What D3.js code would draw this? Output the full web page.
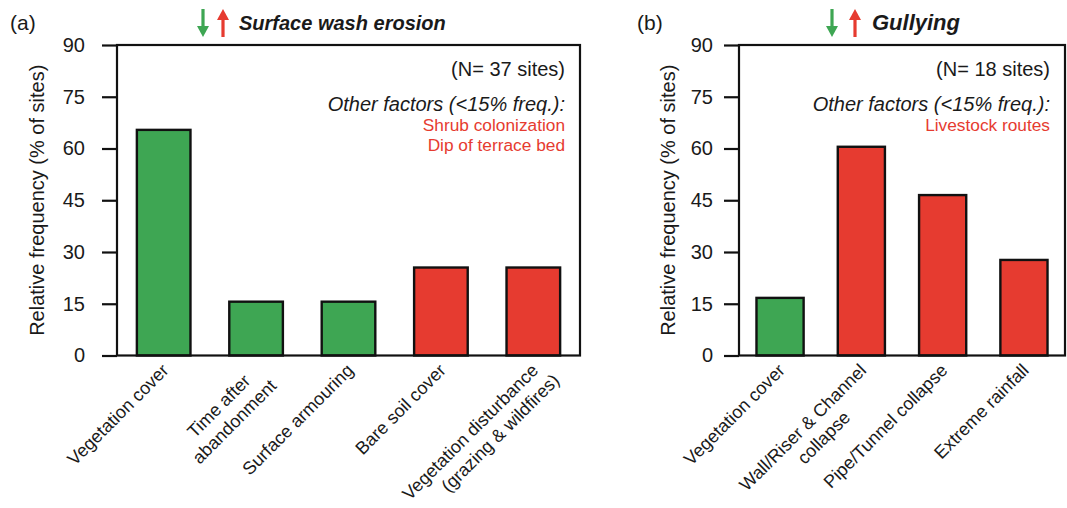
<!DOCTYPE html>
<html>
<head>
<meta charset="utf-8">
<script src="https://cdn.jsdelivr.net/npm/d3@7"></script>
<style>
  body { margin: 0; background: #fff; }
  svg text { font-family: "Liberation Sans", Arial, sans-serif; fill: #1a1a1a; }
</style>
</head>
<body>
<svg id="chart" width="1067" height="508"></svg>
<script>
// panel (a) surface wash erosion
let catsA = ['Vegetation cover', 'Time after\nabandonment', 'Surface armouring', 'Bare soil cover', 'Vegetation disturbance\n(grazing & wildfires)'];
let valsA = [65.4, 15.6, 15.6, 25.5, 25.5];
let effA = ['down', 'down', 'down', 'up', 'up'];
let otherA = ['Shrub colonization', 'Dip of terrace bed'];

// panel (b) gullying
let catsB = ['Vegetation cover', 'Wall/Riser & Channel\ncollapse', 'Pipe/Tunnel collapse', 'Extreme rainfall'];
let valsB = [16.7, 60.5, 46.5, 27.7];
let effB = ['down', 'up', 'up', 'up'];
let otherB = ['Livestock routes'];

let yTicks = [0, 15, 30, 45, 60, 75, 90];

let green = '#3ea653';
let red = '#e63b30';

let svg = d3.select('#chart');

function drawPanel(opt) {
  let g = svg.append('g');
  let x = d3.scaleBand()
    .domain(opt.cats)
    .range([opt.left, opt.right])
    .paddingInner(0.42)
    .paddingOuter(0.215);
  let y = d3.scaleLinear().domain([0, 90]).range([opt.bottom, opt.top]);

  // bars
  g.selectAll('rect.bar')
    .data(opt.vals)
    .enter()
    .append('rect')
    .attr('class', 'bar')
    .attr('x', (d, i) => x(opt.cats[i]))
    .attr('width', x.bandwidth())
    .attr('y', d => y(d))
    .attr('height', d => y(0) - y(d))
    .attr('fill', (d, i) => opt.eff[i] == 'down' ? green : red)
    .attr('stroke', '#111')
    .attr('stroke-width', 2.4);

  // box
  g.append('rect')
    .attr('x', opt.left).attr('y', opt.top)
    .attr('width', opt.right - opt.left).attr('height', opt.bottom - opt.top)
    .attr('fill', 'none').attr('stroke', '#111').attr('stroke-width', 2.2);

  // y axis
  let ax = g.append('g')
    .attr('transform', 'translate(' + opt.left + ',0)')
    .call(d3.axisLeft(y).tickValues(yTicks).tickSize(15).tickPadding(opt.pad).tickSizeOuter(0));
  ax.select('.domain').remove();
  ax.selectAll('line').attr('stroke', '#111').attr('stroke-width', 2.2);
  ax.selectAll('text')
    .style('font-family', '"Liberation Sans", Arial, sans-serif')
    .style('font-size', '20px')
    .attr('fill', '#1a1a1a');

  g.append('text')
    .attr('transform', 'translate(' + opt.ylabX + ',' + ((opt.top + opt.bottom) / 2) + ') rotate(-90)')
    .attr('text-anchor', 'middle')
    .style('font-size', '20px')
    .text('Relative frequency (% of sites)');

  // x labels, rotated; first line anchored under the bar, extra lines centred below
  opt.cats.forEach(function(c) {
    let lines = c.split('\n');
    let cx = x(c) + x.bandwidth() / 2;
    let lg = g.append('g')
      .attr('transform', 'translate(' + (cx + 6) + ',' + (opt.bottom + 16) + ') rotate(-45)');
    let ts = lines.map(function(l, i) {
      return lg.append('text')
        .attr('y', i * 22)
        .attr('text-anchor', 'middle')
        .style('font-size', '18px')
        .text(l);
    });
    let lens = ts.map(t => t.node().getComputedTextLength());
    let w = d3.max(lens);
    ts.forEach(t => t.attr('x', -w / 2));
    // keep the block inside the picture: slide short lines up along the text
    let over = lg.node().getBoundingClientRect().bottom - 505;
    if (over > 0) {
      ts.forEach(function(t, i) {
        if (lens[i] < w) t.attr('x', -w / 2 + over / 0.707);
      });
    }
  });

  // panel letter
  g.append('text').attr('x', opt.letterX).attr('y', 30)
    .style('font-size', '21px').text(opt.letter);

  // title arrows
  arrow(g, opt.arrowX, 'down', green);
  arrow(g, opt.arrowX + opt.arrowGap, 'up', red);
  g.append('text').attr('x', opt.titleX).attr('y', 30)
    .style('font-size', opt.titleSize).style('font-weight', 'bold').style('font-style', 'italic')
    .text(opt.title);

  // annotations
  let rx = opt.right - 15;
  g.append('text').attr('x', rx).attr('y', 76).attr('text-anchor', 'end')
    .style('font-size', '20px').text(opt.nText);
  g.append('text').attr('x', rx).attr('y', 111).attr('text-anchor', 'end')
    .style('font-size', '20px').style('font-style', 'italic')
    .text('Other factors (<15% freq.):');
  g.selectAll('text.other')
    .data(opt.other)
    .enter()
    .append('text')
    .attr('class', 'other')
    .attr('x', rx)
    .attr('y', (d, i) => 131 + i * 20)
    .attr('text-anchor', 'end')
    .style('font-size', '17.3px')
    .style('fill', red)
    .text(d => d);
}

function arrow(g, ax, dir, col) {
  let y0 = 9, y1 = 37;
  let p = d3.path();
  if (dir == 'down') {
    g.append('line').attr('x1', ax).attr('x2', ax).attr('y1', y0).attr('y2', y1 - 9)
      .attr('stroke', col).attr('stroke-width', 3.2);
    p.moveTo(ax - 6, y1 - 11); p.lineTo(ax + 6, y1 - 11); p.lineTo(ax, y1); p.closePath();
  } else {
    g.append('line').attr('x1', ax).attr('x2', ax).attr('y1', y0 + 9).attr('y2', y1)
      .attr('stroke', col).attr('stroke-width', 3.2);
    p.moveTo(ax - 6, y0 + 11); p.lineTo(ax + 6, y0 + 11); p.lineTo(ax, y0); p.closePath();
  }
  g.append('path').attr('d', p.toString()).attr('fill', col);
}

drawPanel({
  cats: catsA, vals: valsA, eff: effA, other: otherA,
  left: 117, right: 580, top: 45, bottom: 355.5, pad: 17, ylabX: 44,
  letter: '(a)', letterX: 10, arrowX: 203, arrowGap: 20, titleX: 239, titleSize: '20px',
  title: 'Surface wash erosion', nText: '(N= 37 sites)'
});
drawPanel({
  cats: catsB, vals: valsB, eff: effB, other: otherB,
  left: 739, right: 1065, top: 45, bottom: 355.5, pad: 11, ylabX: 675,
  letter: '(b)', letterX: 637, arrowX: 832, arrowGap: 23, titleX: 872, titleSize: '22px',
  title: 'Gullying', nText: '(N= 18 sites)'
});
</script>
</body>
</html>
